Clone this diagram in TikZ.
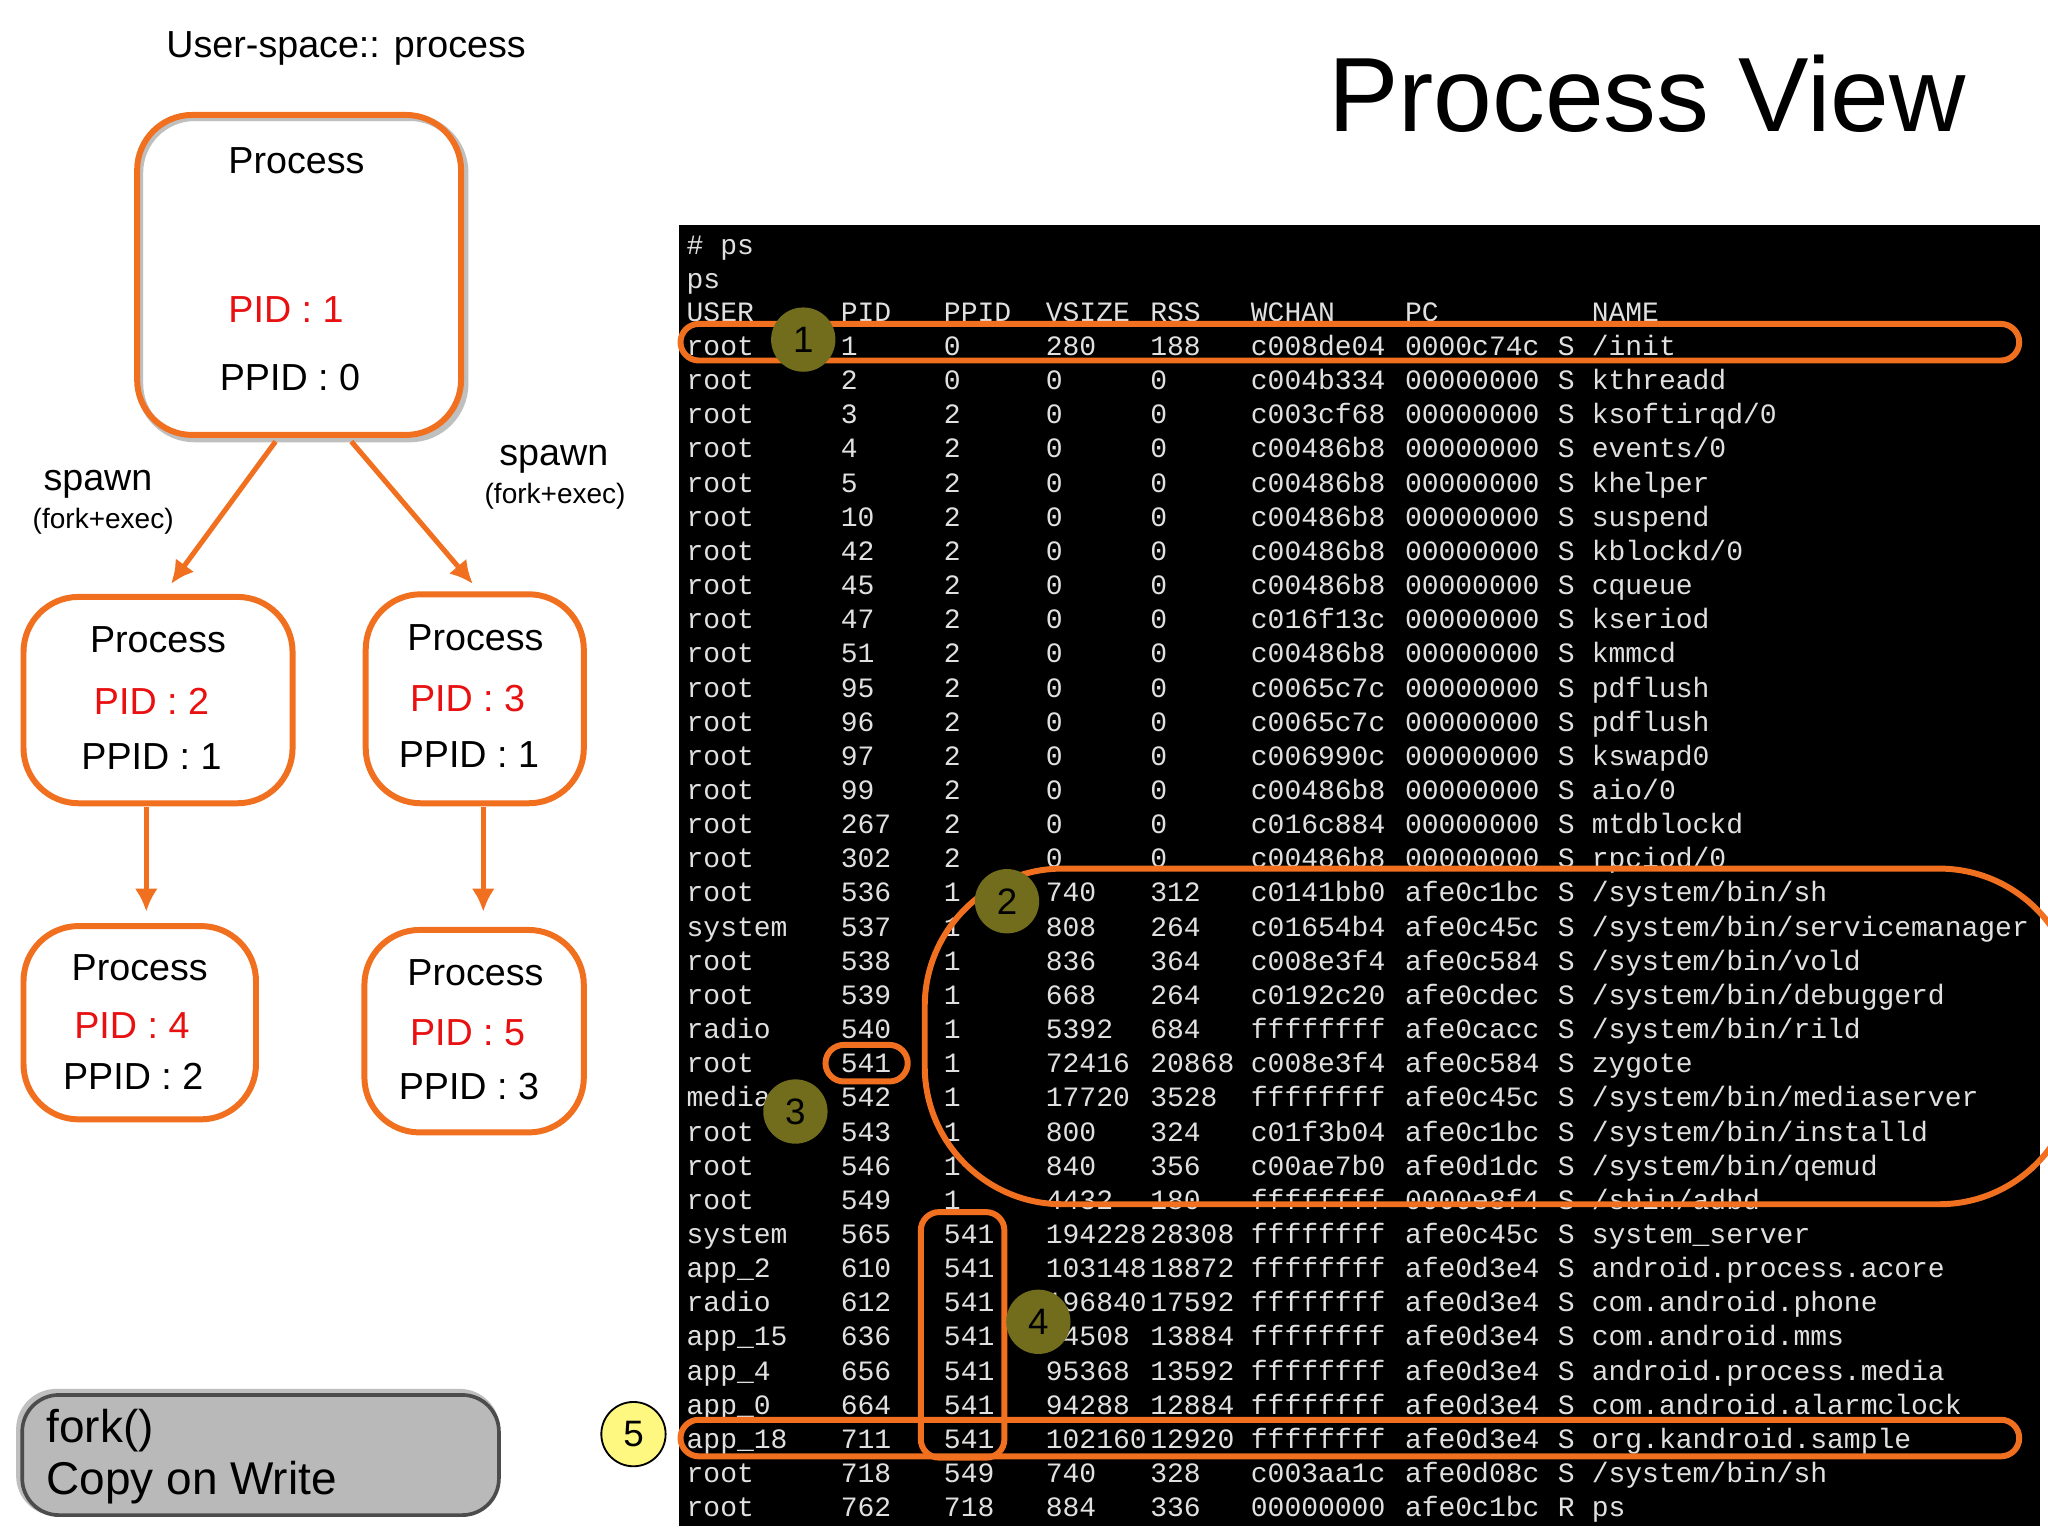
\documentclass[tikz,border=0pt]{standalone}
\usepackage{fontspec}
\setmainfont{Liberation Sans}
\newfontfamily\termfont{Liberation Mono}
\begin{document}
\begin{tikzpicture}[x=0.01cm,y=-0.01cm,
  box/.style={draw=orng,line width=1.3pt,rounded corners=12pt},
  lbl/.style={font=\fontsize{8.2pt}{10pt}\selectfont,inner sep=0},
  sml/.style={font=\fontsize{6.1pt}{7pt}\selectfont,inner sep=0},
  arr/.style={draw=orng,line width=1.1pt,-{Latex[length=5pt,width=5pt]}},
  hl/.style={draw=orng,line width=1.3pt,rounded corners=4pt},
  term/.style={font=\termfont\fontsize{6.1pt}{7pt}\selectfont,text=white!88!black,anchor=base west,inner sep=0},
  num/.style={circle,fill=olive!75!black,minimum size=14pt,inner sep=0,font=\fontsize{8pt}{9pt}\selectfont}]
\usetikzlibrary{arrows.meta}
\definecolor{orng}{HTML}{F07020}
\definecolor{pidred}{HTML}{E81010}
\useasboundingbox (0,0) rectangle (1568,1175);
\fill[white] (0,0) rectangle (1568,1175);
% title
\node[inner sep=0,font=\fontsize{23pt}{28pt}\selectfont] (title) at (1261,72) {Process View};
\node[lbl] (us) at (265,37) {User-space:: process};
% process tree
\draw[gray!50,line width=1.5pt,rounded corners=12pt] (107,90) rectangle (356,336);
\draw[box] (105,88) rectangle (353,333);
\node[lbl] (p1a) at (227,123) {Process};
\node[lbl,text=pidred] (p1b) at (219,237) {PID : 1};
\node[lbl] (p1c) at (222,289) {PPID : 0};
\draw[box] (18,457) rectangle (224,615);
\node[lbl] (p2a) at (121,490) {Process};
\node[lbl,text=pidred] (p2b) at (116,537) {PID : 2};
\node[lbl] (p2c) at (116,579) {PPID : 1};
\draw[box] (280,455) rectangle (447,615);
\node[lbl] (p3a) at (364,488) {Process};
\node[lbl,text=pidred] (p3b) at (358,535) {PID : 3};
\node[lbl] (p3c) at (359,578) {PPID : 1};
\draw[box] (18,709) rectangle (196,857);
\node[lbl] (p4a) at (107,741) {Process};
\node[lbl,text=pidred] (p4b) at (101,785) {PID : 4};
\node[lbl] (p4c) at (102,824) {PPID : 2};
\draw[box] (279,712) rectangle (447,867);
\node[lbl] (p5a) at (364,745) {Process};
\node[lbl,text=pidred] (p5b) at (358,791) {PID : 5};
\node[lbl] (p5c) at (359,832) {PPID : 3};
\coordinate (a1s) at (211,338); \coordinate (a1e) at (131,447);
\coordinate (a2s) at (269,338); \coordinate (a2e) at (362,447);
\coordinate (a3s) at (112,618); \coordinate (a3e) at (112,698);
\coordinate (a4s) at (370,618); \coordinate (a4e) at (370,698);
\draw[arr] (a1s) -- (a1e);
\draw[arr] (a2s) -- (a2e);
\draw[arr] (a3s) -- (a3e);
\draw[arr] (a4s) -- (a4e);
\node[lbl] (s1) at (75,371) {spawn};
\node[sml] (f1) at (79,399) {(fork+exec)};
\node[lbl] (s2) at (424,352) {spawn};
\node[sml] (f2) at (425,380) {(fork+exec)};
% fork box
\draw[gray!50,line width=1.5pt,rounded corners=8pt] (15,1066) rectangle (380,1158);
\draw[black!70,fill=gray!55,line width=0.8pt,rounded corners=8pt] (17,1068) rectangle (382,1160);
\node[anchor=west,inner sep=0,font=\fontsize{10pt}{11pt}\selectfont] (fk) at (35,1095) {fork()};
\node[anchor=west,inner sep=0,font=\fontsize{10pt}{11pt}\selectfont] (cw) at (35,1135) {Copy on Write};
% terminal
\fill[black] (520,172) rectangle (1562,1168);
\node[term] (t0) at (525,195) {\# ps};
\node[term] (t1) at (525,221) {ps};
\foreach \u/\p/\pp/\v/\r/\w/\pc/\s/\n [count=\i] in {
USER/PID/PPID/VSIZE/RSS/WCHAN/PC/ /NAME,
root/1/0/280/188/c008de04/0000c74c/S/\detokenize{/init},
root/2/0/0/0/c004b334/00000000/S/kthreadd,
root/3/2/0/0/c003cf68/00000000/S/\detokenize{ksoftirqd/0},
root/4/2/0/0/c00486b8/00000000/S/\detokenize{events/0},
root/5/2/0/0/c00486b8/00000000/S/khelper,
root/10/2/0/0/c00486b8/00000000/S/suspend,
root/42/2/0/0/c00486b8/00000000/S/\detokenize{kblockd/0},
root/45/2/0/0/c00486b8/00000000/S/cqueue,
root/47/2/0/0/c016f13c/00000000/S/kseriod,
root/51/2/0/0/c00486b8/00000000/S/kmmcd,
root/95/2/0/0/c0065c7c/00000000/S/pdflush,
root/96/2/0/0/c0065c7c/00000000/S/pdflush,
root/97/2/0/0/c006990c/00000000/S/kswapd0,
root/99/2/0/0/c00486b8/00000000/S/\detokenize{aio/0},
root/267/2/0/0/c016c884/00000000/S/mtdblockd,
root/302/2/0/0/c00486b8/00000000/S/\detokenize{rpciod/0},
root/536/1/740/312/c0141bb0/afe0c1bc/S/\detokenize{/system/bin/sh},
system/537/1/808/264/c01654b4/afe0c45c/S/\detokenize{/system/bin/servicemanager},
root/538/1/836/364/c008e3f4/afe0c584/S/\detokenize{/system/bin/vold},
root/539/1/668/264/c0192c20/afe0cdec/S/\detokenize{/system/bin/debuggerd},
radio/540/1/5392/684/ffffffff/afe0cacc/S/\detokenize{/system/bin/rild},
root/541/1/72416/20868/c008e3f4/afe0c584/S/zygote,
media/542/1/17720/3528/ffffffff/afe0c45c/S/\detokenize{/system/bin/mediaserver},
root/543/1/800/324/c01f3b04/afe0c1bc/S/\detokenize{/system/bin/installd},
root/546/1/840/356/c00ae7b0/afe0d1dc/S/\detokenize{/system/bin/qemud},
root/549/1/4432/180/ffffffff/0000e8f4/S/\detokenize{/sbin/adbd},
system/565/541/194228/28308/ffffffff/afe0c45c/S/\detokenize{system_server},
\detokenize{app_2}/610/541/103148/18872/ffffffff/afe0d3e4/S/android.process.acore,
radio/612/541/196840/17592/ffffffff/afe0d3e4/S/com.android.phone,
\detokenize{app_15}/636/541/94508/13884/ffffffff/afe0d3e4/S/com.android.mms,
\detokenize{app_4}/656/541/95368/13592/ffffffff/afe0d3e4/S/android.process.media,
\detokenize{app_0}/664/541/94288/12884/ffffffff/afe0d3e4/S/com.android.alarmclock,
\detokenize{app_18}/711/541/102160/12920/ffffffff/afe0d3e4/S/org.kandroid.sample,
root/718/549/740/328/c003aa1c/afe0d08c/S/\detokenize{/system/bin/sh},
root/762/718/884/336/00000000/afe0c1bc/R/ps}{
  \pgfmathsetmacro{\yy}{246+(\i-1)*26.15}
  \node[term] (u\i) at (525,\yy) {\u};
  \node[term] (pid\i) at (643,\yy) {\p};
  \node[term] (pp\i) at (722,\yy) {\pp};
  \node[term] (v\i) at (800,\yy) {\v};
  \node[term] (rs\i) at (880,\yy) {\r};
  \node[term] (w\i) at (957,\yy) {\w};
  \node[term] (pc\i) at (1075,\yy) {\pc};
  \node[term] (st\i) at (1192,\yy) {\s};
  \node[term] (nm\i) at (1218,\yy) {\n};
}
% highlights
\draw[hl] (521,248) rectangle (1546,276);
\draw[orng,line width=1.3pt,rounded corners=30pt] (708,665) rectangle (1590,922);
\draw[hl] (632,800) rectangle (695,828);
\draw[hl] (705,928) rectangle (769,1116);
\draw[hl] (521,1087) rectangle (1546,1115);
\node[num] (n1) at (615,260) {1};
\node[num] (n2) at (771,690) {2};
\node[num] (n3) at (609,851) {3};
\node[num] (n4) at (795,1012) {4};
\node[circle,draw=black,fill=yellow!50,minimum size=14pt,inner sep=0,font=\fontsize{8pt}{9pt}\selectfont] (n5) at (485,1098) {5};
\end{tikzpicture}
\end{document}
